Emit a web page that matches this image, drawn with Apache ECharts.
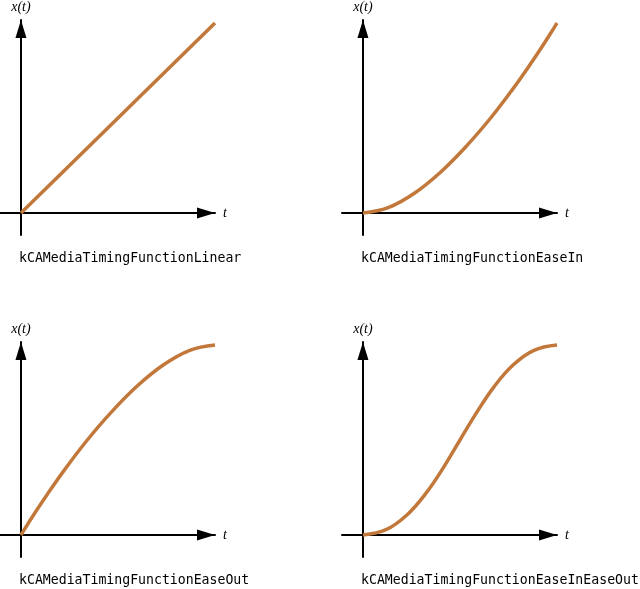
<!DOCTYPE html>
<html>
<head>
<meta charset="utf-8">
<script src="https://cdn.jsdelivr.net/npm/echarts@6/dist/echarts.min.js"></script>
<style>html,body{margin:0;padding:0;background:#fff}#c{width:640px;height:589px}</style>
</head>
<body>
<div id="c"></div>
<script>
var linearT = [0, 1];
var linearX = [0, 1];
var easeInT = [0, 0.13, 0.265, 0.401, 0.533, 0.658, 0.769, 0.863, 0.936, 0.983, 1];
var easeInX = [0, 0.028, 0.104, 0.216, 0.352, 0.5, 0.648, 0.784, 0.896, 0.972, 1];
var easeOutT = [0, 0.017, 0.064, 0.137, 0.231, 0.342, 0.467, 0.599, 0.735, 0.87, 1];
var easeOutX = [0, 0.028, 0.104, 0.216, 0.352, 0.5, 0.648, 0.784, 0.896, 0.972, 1];
var easeInOutT = [0, 0.119, 0.225, 0.322, 0.413, 0.5, 0.588, 0.678, 0.775, 0.881, 1];
var easeInOutX = [0, 0.028, 0.104, 0.216, 0.352, 0.5, 0.648, 0.784, 0.896, 0.972, 1];
var panelNames = ['kCAMediaTimingFunctionLinear', 'kCAMediaTimingFunctionEaseIn',
                  'kCAMediaTimingFunctionEaseOut', 'kCAMediaTimingFunctionEaseInEaseOut'];
var yAxisName = 'x(t)';
var xAxisName = 't';

function pairs(t, x) { return t.map(function (v, i) { return [v, x[i]]; }); }
var curves = [pairs(linearT, linearX), pairs(easeInT, easeInX), pairs(easeOutT, easeOutX), pairs(easeInOutT, easeInOutX)];

var lefts = [0, 342, 0, 342];
var tops = [20, 20, 342, 342];
var curveColor = '#c2783a';
var nameFont = {fontFamily: 'Liberation Serif', fontStyle: 'italic', fontSize: 14, color: '#000'};

var grids = [], xAxes = [], yAxes = [], series = [], titles = [];
for (var i = 0; i < 4; i++) {
  grids.push({left: lefts[i], top: tops[i], width: 215, height: 215, containLabel: false});
  xAxes.push({
    type: 'value', gridIndex: i, min: -0.108, max: 1.0,
    axisLine: {onZero: true, symbol: ['none', 'triangle'], symbolSize: [11, 18], symbolOffset: [0, -9],
               lineStyle: {color: '#000', width: 2}},
    axisTick: {show: false}, axisLabel: {show: false}, splitLine: {show: false},
    name: xAxisName, nameLocation: 'end', nameGap: 8,
    nameTextStyle: Object.assign({}, nameFont, {padding: [3, 0, 0, 0]})
  });
  yAxes.push({
    type: 'value', gridIndex: i, min: -0.116, max: 1.016,
    axisLine: {onZero: true, symbol: ['none', 'triangle'], symbolSize: [11, 18], symbolOffset: [0, -9],
               lineStyle: {color: '#000', width: 2}},
    axisTick: {show: false}, axisLabel: {show: false}, splitLine: {show: false},
    name: yAxisName, nameLocation: 'end', nameGap: 6, nameTextStyle: nameFont
  });
  series.push({
    type: 'line', xAxisIndex: i, yAxisIndex: i, data: curves[i],
    smooth: i === 0 ? false : 0.4, showSymbol: false, symbol: 'none',
    lineStyle: {color: curveColor, width: 3.5}
  });
  titles.push({
    text: panelNames[i], left: lefts[i] + 19, top: tops[i] + 232, padding: 0,
    textStyle: {fontFamily: 'DejaVu Sans Mono', fontSize: 13.2, fontWeight: 'normal', color: '#000'}
  });
}

var chart = echarts.init(document.getElementById('c'), null, {renderer: 'canvas'});
chart.setOption({
  animation: false,
  backgroundColor: '#fff',
  title: titles,
  grid: grids,
  xAxis: xAxes,
  yAxis: yAxes,
  series: series
});
</script>
</body>
</html>
